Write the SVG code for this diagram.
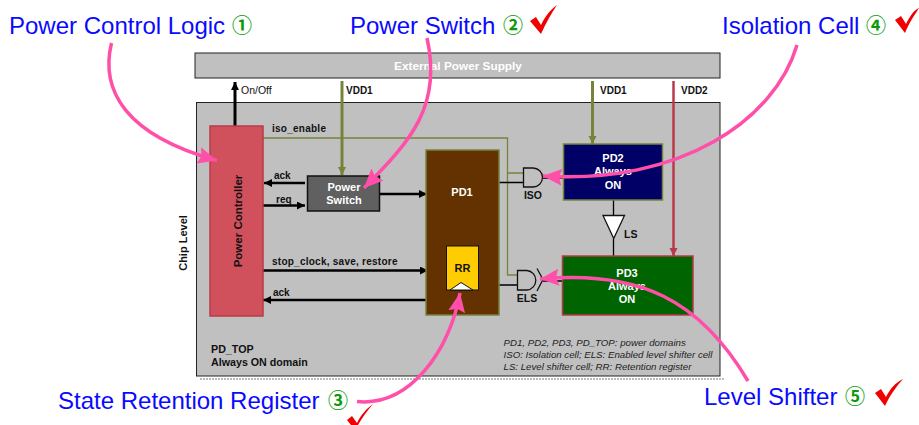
<svg xmlns="http://www.w3.org/2000/svg" width="919" height="425" viewBox="0 0 919 425">
<style>
text{font-family:"Liberation Sans",Arial,sans-serif}
.call{font-size:24px;fill:#0a0aff}
.num{font-family:"Noto Sans CJK JP","DejaVu Sans",sans-serif;font-size:20px;font-weight:bold;fill:#0a9a0a}
.b{font-size:10px;font-weight:bold;fill:#111}
.w{font-size:11px;font-weight:bold;fill:#fff;text-anchor:middle}
.leg{font-size:9.700px;font-style:italic;fill:#222}
.blk{stroke:#000;fill:none}
.pink{stroke:#ff4fa8;stroke-width:3.500;fill:none;marker-end:url(#mp)}
.gate{fill:#c0c0c0;stroke:#111;stroke-width:1.300}
.chk{fill:#f00000}
</style>
<defs>
<marker id="mk" markerUnits="userSpaceOnUse" markerWidth="10" markerHeight="10" refX="8" refY="4" orient="auto"><path d="M0 0L8 4L0 8Z" fill="#000"/></marker>
<marker id="mo" markerUnits="userSpaceOnUse" markerWidth="10" markerHeight="10" refX="8" refY="4" orient="auto"><path d="M0 0L8 4L0 8Z" fill="#76843a"/></marker>
<marker id="mr" markerUnits="userSpaceOnUse" markerWidth="10" markerHeight="10" refX="8" refY="4" orient="auto"><path d="M0 0L8 4L0 8Z" fill="#b83a4a"/></marker>
<marker id="mp" markerUnits="userSpaceOnUse" markerWidth="22" markerHeight="20" refX="19" refY="8.500" orient="auto"><path d="M0 0L19 8.500L0 17L3 8.500Z" fill="#ff4fa8"/></marker>
</defs>

<g id="supply"><rect x="195" y="53" width="525" height="25" fill="#c0c0c0" stroke="#222" stroke-width="1"/><text x="458" y="70" class="w" style="font-size:11.800px">External Power Supply</text></g>
<g id="chip"><path d="M200 379H724" stroke="#777" stroke-width="1" stroke-dasharray="2 1" fill="none"/><rect x="196.500" y="102.500" width="523.500" height="273.500" fill="#c0c0c0" stroke="#222" stroke-width="1"/>
<text transform="translate(187 243) rotate(-90)" class="b" text-anchor="middle" style="font-size:11px">Chip Level</text>
<text x="211" y="353" class="b" style="font-size:10.700px">PD_TOP</text><text x="211" y="366" class="b" style="font-size:10.700px">Always ON domain</text></g>

<g id="connectors">
<path d="M263 138H507.500V275H517M507.500 173H523" fill="none" stroke="#76843a" stroke-width="1.300"/>
<path d="M499 182.500H523M543 178H563M499 285H517M543 281H562M613.500 200V215M613.500 239V256" class="blk" stroke-width="1.300"/>
<path d="M235 126V82" class="blk" stroke-width="3" marker-end="url(#mk)"/>
<path d="M305 183H264" class="blk" stroke-width="2.500" marker-end="url(#mk)"/>
<path d="M263 205.500H305" class="blk" stroke-width="2.500" marker-end="url(#mk)"/>
<path d="M379 194H427" class="blk" stroke-width="2.500" marker-end="url(#mk)"/>
<path d="M263 270.500H428" class="blk" stroke-width="2.500" marker-end="url(#mk)"/>
<path d="M426 300H263" class="blk" stroke-width="2.500" marker-end="url(#mk)"/>
<path d="M342 81V175" fill="none" stroke="#76843a" stroke-width="3" marker-end="url(#mo)"/>
<path d="M592.500 81V144" fill="none" stroke="#76843a" stroke-width="3" marker-end="url(#mo)"/>
<path d="M673.500 81V256" fill="none" stroke="#b83a4a" stroke-width="2.500" marker-end="url(#mr)"/>
</g>

<g id="controller"><rect x="210" y="126" width="53" height="190" fill="#d0505c" stroke="#b83a4a" stroke-width="1.500"/><text transform="translate(242 221) rotate(-90)" class="b" text-anchor="middle" style="font-size:11.500px">Power Controller</text></g>
<g id="switch"><rect x="307.500" y="176" width="72" height="35" fill="#606060" stroke="#111" stroke-width="1.500"/><text x="344" y="191" class="w">Power</text><text x="344" y="204" class="w">Switch</text></g>
<g id="pd1"><rect x="426" y="150" width="73" height="165" fill="#643200" stroke="#76843a" stroke-width="1.500"/><text x="462" y="196" class="w">PD1</text></g>
<g id="rr"><rect x="446.500" y="246" width="32" height="44" fill="#ffcc00" stroke="#111" stroke-width="1"/><path d="M450 290L461 282.500L473 290Z" fill="#fff" stroke="#111" stroke-width="1"/><text x="462.500" y="272" class="b" text-anchor="middle" style="font-size:11px">RR</text></g>
<g id="pd2"><rect x="563.500" y="144" width="99" height="56" fill="#000066" stroke="#76843a" stroke-width="1.500"/><text x="613" y="162" class="w">PD2</text><text x="613" y="175" class="w">Always</text><text x="613" y="189" class="w">ON</text></g>
<g id="pd3"><rect x="562.500" y="256" width="130.500" height="59" fill="#006400" stroke="#b83a4a" stroke-width="1.500"/><text x="627" y="277" class="w">PD3</text><text x="627" y="290" class="w">Always</text><text x="627" y="303" class="w">ON</text></g>
<g id="iso"><path d="M523.500 168H533A9.500 9.500 0 0 1 533 187H523.500Z" class="gate"/><text x="533" y="199" class="b" text-anchor="middle" style="font-size:10.500px">ISO</text></g>
<g id="els"><path d="M517.500 270.500H527A9.800 9.800 0 0 1 527 290H517.500Z" class="gate"/><path d="M537 268.500L543 279.500L537 291" fill="#c0c0c0" stroke="#111" stroke-width="1.300"/><text x="527" y="302" class="b" text-anchor="middle" style="font-size:10.500px">ELS</text></g>
<g id="ls"><path d="M603 215.500H624.500L613.700 238.500Z" fill="#fff" stroke="#111" stroke-width="1.300"/><text x="624" y="238" class="b" style="font-size:10.500px">LS</text></g>

<g id="labels">
<text x="241" y="94" font-size="10.500" fill="#111">On/Off</text>
<text x="346" y="94" class="b">VDD1</text><text x="600" y="94" class="b">VDD1</text><text x="681" y="94" class="b">VDD2</text>
<text x="272" y="132" class="b" style="letter-spacing:.25px">iso_enable</text>
<text x="274" y="179" class="b">ack</text><text x="276" y="203" class="b">req</text>
<text x="272" y="265" class="b" style="letter-spacing:.25px">stop_clock, save, restore</text><text x="273" y="296" class="b">ack</text>
<text x="503.500" y="346" class="leg">PD1, PD2, PD3, PD_TOP: power domains</text>
<text x="503.500" y="358" class="leg">ISO: Isolation cell; ELS: Enabled level shifter cell</text>
<text x="503.500" y="370" class="leg">LS: Level shifter cell; RR: Retention register</text>
</g>

<g id="callouts">
<path class="pink" d="M111.500 43C100 90 125 135 217 160.500"/>
<path class="pink" d="M427 38C442 105 412 140 364 188"/>
<path class="pink" d="M797 45C775 120 680 185 543 176"/>
<path class="pink" d="M748 381C700 300 640 270 540 279"/>
<path class="pink" d="M357 401.500C410 407 450 350 460 293"/>
<text x="9" y="34" class="call">Power Control Logic</text><text x="232" y="33" class="num">①</text>
<text x="350" y="34" class="call">Power Switch</text><text x="503" y="33" class="num">②</text>
<text x="722" y="34" class="call">Isolation Cell</text><text x="866" y="33" class="num">④</text>
<text x="58" y="409" class="call">State Retention Register</text><text x="328" y="408" class="num">③</text>
<text x="704" y="405" class="call">Level Shifter</text><text x="845" y="404" class="num">⑤</text>
<path class="chk" d="M530 21L536 17L541 25C545 17 549 11 557 5C551 14 546 23 541 34Z"/>
<path class="chk" d="M895 20L901 16L906 24C910 16 914 10 919 8C914 16 909 23 905 33Z"/>
<path class="chk" d="M347 420L352 416L357 423C361 415 366 409 373 404C367 411 362 418 358 425H351Z"/>
<path class="chk" d="M875 393L881 389L886 397C890 389 895 383 903 379C896 387 890 395 885 406Z"/>
</g>
</svg>
